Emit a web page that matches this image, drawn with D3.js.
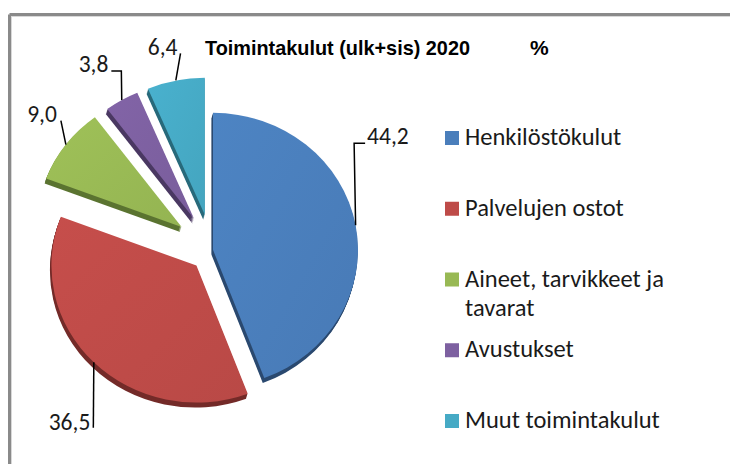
<!DOCTYPE html>
<html>
<head>
<meta charset="utf-8">
<script src="https://cdn.jsdelivr.net/npm/d3@7"></script>
<style>
  html, body { margin: 0; padding: 0; background: #fff; }
  svg { display: block; }
  text { white-space: pre; }
</style>
</head>
<body>
<svg id="chart" width="730" height="464"></svg>
<script>
// ---- data ----
const categories = ["Henkilöstökulut", "Palvelujen ostot", "Aineet, tarvikkeet ja tavarat", "Avustukset", "Muut toimintakulut"];
const legendLines = [["Henkilöstökulut"], ["Palvelujen ostot"], ["Aineet, tarvikkeet ja", "tavarat"], ["Avustukset"], ["Muut toimintakulut"]];
const values = [44.2, 36.5, 9.0, 3.8, 6.4];
const valueLabels = ["44,2", "36,5", "9,0", "3,8", "6,4"];
const titleMain = "Toimintakulut (ulk+sis) 2020";
const titleUnit = "%";

// ---- style / layout ----
const faceColors = ["#4a7ebb", "#be4b48", "#98b954", "#7d60a0", "#46aac5"];
const sideColors = ["#2b4a70", "#742b29", "#5b7431", "#4a3862", "#286a7b"];
const explode = [1, 22, 38, 36, 36];
const center = { x: 212, y: 250 };
const rx = 145, ry = 137, depth = 5;
// leader layout: elbow offset from arc point, horizontal tail, text offset from tail end
const leaderLayout = [
  { ex: -1.5, ey: -82, h: 11, tx: 2, ty: 1, anchor: "start" },
  { ex: -0.5, ey: 65.5, h: 0, tx: -3, ty: 2, anchor: "end" },
  { ex: -5, ey: -24, h: 0, tx: -4, ty: 1, anchor: "end" },
  { ex: -0.4, ey: -29, h: -10, tx: -3, ty: 1, anchor: "end" },
  { ex: 4.7, ey: -27, h: 0, tx: -3, ty: 2, anchor: "end" }
];
const labelFont = "Carlito, Lato, 'Open Sans', sans-serif";
const titleFont = "'Liberation Sans Narrow', 'Arial Narrow', 'Liberation Sans', sans-serif";

const svg = d3.select("#chart");

// frame
svg.append("line").attr("x1", 9.5).attr("y1", 14.5).attr("x2", 730).attr("y2", 14.5)
  .attr("stroke", "#8a8a8a").attr("stroke-width", 3);
svg.append("line").attr("x1", 9.5).attr("y1", 14.5).attr("x2", 9.5).attr("y2", 464)
  .attr("stroke", "#8a8a8a").attr("stroke-width", 3);
svg.append("line").attr("x1", 11).attr("y1", 16.5).attr("x2", 730).attr("y2", 16.5)
  .attr("stroke", "#d8d8d8").attr("stroke-width", 1);
svg.append("line").attr("x1", 11.5).attr("y1", 16).attr("x2", 11.5).attr("y2", 464)
  .attr("stroke", "#d8d8d8").attr("stroke-width", 1);

// title
svg.append("text")
  .attr("x", 205).attr("y", 55)
  .attr("font-family", titleFont)
  .attr("font-weight", "bold").attr("font-size", 21)
  .attr("textLength", 265).attr("lengthAdjust", "spacingAndGlyphs")
  .attr("fill", "#000")
  .text(titleMain);
svg.append("text")
  .attr("x", 530).attr("y", 55)
  .attr("font-family", titleFont)
  .attr("font-weight", "bold").attr("font-size", 21)
  .attr("fill", "#000")
  .text(titleUnit);

// pie
const pie = d3.pie().sort(null).value(d => d)(values);
const arc = d3.arc().innerRadius(0).outerRadius(rx);
const k = ry / rx;

const slices = pie.map((p, i) => {
  const mid = (p.startAngle + p.endAngle) / 2;
  const ax = center.x + Math.sin(mid) * explode[i];
  const ay = center.y - Math.cos(mid) * explode[i];
  return { p, i, mid, ax, ay };
});

const defs = svg.append("defs");
slices.forEach(s => {
  const g = defs.append("linearGradient").attr("id", "grad" + s.i)
    .attr("x1", "0").attr("y1", "0").attr("x2", "1").attr("y2", "1");
  const c = d3.color(faceColors[s.i]);
  g.append("stop").attr("offset", "0%").attr("stop-color", c.brighter(0.12));
  g.append("stop").attr("offset", "100%").attr("stop-color", c.darker(0.08));
});

const sideLayer = svg.append("g");
const faceLayer = svg.append("g");

slices.forEach(s => {
  for (let d = depth; d >= 1; d--) {
    sideLayer.append("path")
      .attr("transform", `translate(${s.ax - d * 0.3},${s.ay + d}) scale(1,${k})`)
      .attr("d", arc(s.p))
      .attr("fill", sideColors[s.i]);
  }
});
slices.forEach(s => {
  faceLayer.append("path")
    .attr("transform", `translate(${s.ax},${s.ay}) scale(1,${k})`)
    .attr("d", arc(s.p))
    .attr("fill", `url(#grad${s.i})`);
});

// leader lines and value labels
const labelLayer = svg.append("g");
slices.forEach(s => {
  const L = leaderLayout[s.i];
  const px = s.ax + Math.sin(s.mid) * rx;
  const py = s.ay - Math.cos(s.mid) * ry;
  const exx = px + L.ex, eyy = py + L.ey;
  const endX = exx + L.h;
  const pts = [[px, py], [exx, eyy]];
  if (L.h !== 0) pts.push([endX, eyy]);
  labelLayer.append("path")
    .attr("d", d3.line()(pts))
    .attr("fill", "none").attr("stroke", "#000").attr("stroke-width", 1.5);
  labelLayer.append("text")
    .attr("x", endX + L.tx).attr("y", eyy + L.ty)
    .attr("text-anchor", L.anchor)
    .attr("font-family", labelFont).attr("font-size", 23.5)
    .attr("fill", "#1a1a1a")
    .text(valueLabels[s.i]);
});

// legend
const legendY = d3.scalePoint().domain(d3.range(categories.length)).range([145, 428]);
const legend = svg.append("g");
categories.forEach((c, i) => {
  const y = legendY(i);
  legend.append("rect")
    .attr("x", 445).attr("y", y - 14).attr("width", 14).attr("height", 14)
    .attr("fill", faceColors[i]);
  legendLines[i].forEach((line, j) => {
    legend.append("text")
      .attr("x", 465).attr("y", y + j * 29)
      .attr("font-family", labelFont).attr("font-size", 24.5)
      .attr("fill", "#1a1a1a")
      .text(line);
  });
});
</script>
</body>
</html>
